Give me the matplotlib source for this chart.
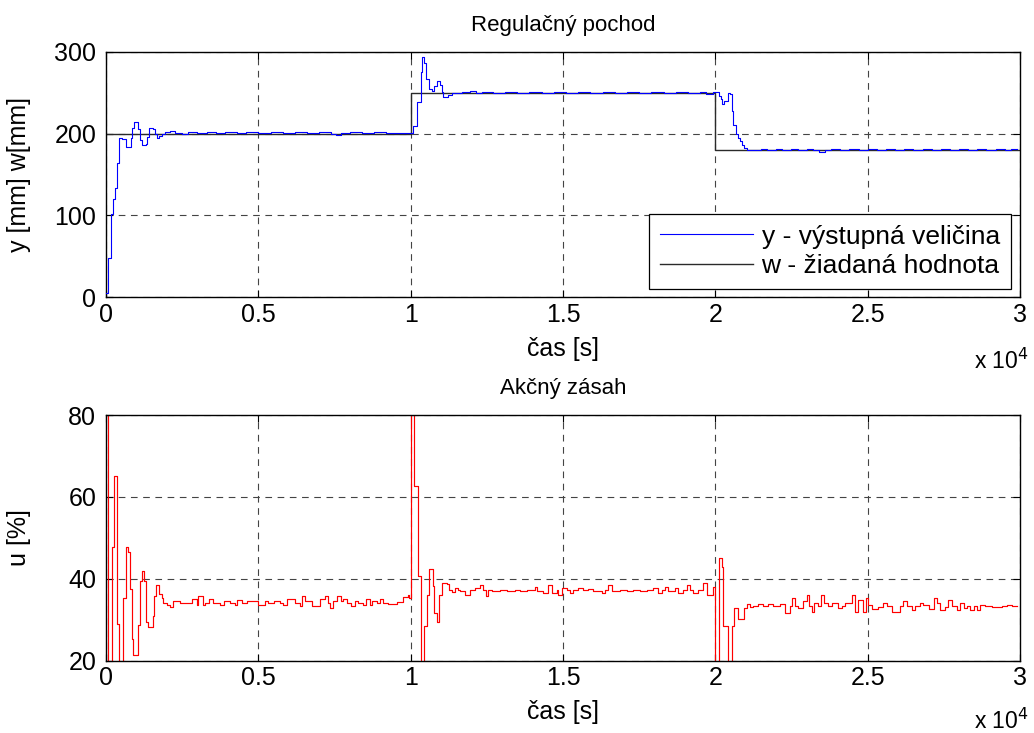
import matplotlib
matplotlib.use("Agg")
import matplotlib.pyplot as plt

plt.rcParams['font.family'] = ['Liberation Sans', 'DejaVu Sans']

# ---- measured output y [mm] (sample-and-hold change points) ----
y_time = [0, 60, 160, 240, 300, 350, 430, 520, 650, 810, 860, 930, 1060, 1120,
          1180, 1300, 1340, 1400, 1550, 1610, 1670, 1750, 1850, 1950, 2100,
          2250, 2500, 2700, 3000, 3300, 3600, 3900, 4300, 4600, 5000, 5400,
          5800, 6200, 6600, 7000, 7400, 7550, 7700, 8000, 8400, 8800, 9200,
          9600, 9950,
          10088, 10200, 10331, 10384, 10450, 10506, 10594, 10703, 10778, 10857,
          10965, 11021, 11074, 11238, 11349, 11700, 11950, 12150, 12350, 12700,
          13100, 13500, 13900, 14300, 14700, 15100, 15500, 15900, 16300, 16700,
          17100, 17500, 17900, 18300, 18700, 19100, 19500, 19700, 19930,
          20125, 20190, 20233, 20299, 20410, 20486, 20541, 20594, 20673, 20739,
          20814, 20890, 20955, 21034, 21500, 21700, 22000, 22200, 22500, 22700,
          23000, 23200, 23400, 23600, 23800, 24100, 24400, 24700, 25000, 25300,
          25600, 25900, 26200, 26500, 26800, 27100, 27400, 27700, 28000, 28300,
          28600, 28900, 29200, 29500, 29700, 29900]
y_value = [5, 48, 102, 120, 134, 164, 194, 193, 183, 194, 207, 214, 205, 192,
           186, 187, 196, 207, 206, 200, 194, 197, 200, 202, 203,
           201, 200, 201.5, 200.5, 201.5, 200.5, 201.5, 200.5, 201.5, 200.5, 201.5,
           200.5, 201.5, 200.5, 201.5, 200, 198.5, 200.5, 201.5, 200.5, 201.5, 200.5,
           201, 200.5,
           209, 239, 274.6, 293, 286, 267, 254, 252, 258, 263.6,
           259, 251, 245, 247, 249, 250.5, 251.5, 249, 250.5, 250,
           251, 250, 251, 250, 251, 250, 251, 250, 251, 250,
           251, 250, 251, 250, 251, 250, 251, 248, 250.5,
           246, 242, 236, 240, 250, 248, 228, 211, 199, 195,
           191, 186, 182, 179.5, 181, 180, 181.5, 180, 181, 180,
           181.5, 180, 177.5, 180, 181, 180, 181.5, 180, 181, 180,
           181.5, 180, 181, 180, 181.5, 180, 181, 180, 181.5, 180,
           181, 180, 181.5, 180, 181, 181]

# ---- setpoint w [mm] ----
w_time = [0, 10000, 20000, 30000]
w_value = [200, 250, 180, 180]

# ---- control action u [%] ----
u_time = [0, 60, 207, 272, 350, 427, 569, 646, 733, 788, 843, 897, 1061, 1116,
          1193, 1258, 1313, 1389, 1532, 1587, 1642, 1751, 1828, 1882, 1992,
          2101, 2210, 2429, 2812, 2977, 3009, 3174, 3250, 3392, 3524, 3743,
          3874, 4071, 4235, 4312, 4454, 4618, 4782, 5001, 5220, 5329, 5515,
          5712, 5822, 5931, 6205, 6369, 6424, 6533, 6752, 7026, 7190, 7299,
          7354, 7441, 7573, 7704, 7791, 7901, 8043, 8174, 8284, 8448, 8536,
          8667, 8722, 8886, 8995, 9105, 9269, 9543, 9761, 9900, 9960,
          10000, 10112, 10253, 10332, 10450, 10529, 10604, 10726, 10778, 10877,
          10942, 11021, 11185, 11250, 11349, 11458, 11567, 11622, 11786, 11950,
          12115, 12279, 12388, 12476, 12552, 12662, 12935, 13154, 13428, 13592,
          13811, 14084, 14161, 14358, 14522, 14631, 14796, 14850, 14960, 15124,
          15233, 15343, 15507, 15671, 15835, 16000, 16273, 16382, 16492, 16601,
          16875, 17094, 17312, 17531, 17750, 17969, 18133, 18243, 18352, 18461,
          18680, 18790, 18954, 19063, 19173, 19282, 19446, 19589, 19742, 19939,
          20000, 20136, 20212, 20267, 20431, 20563, 20628, 20760, 20957, 21033,
          21142, 21252, 21416, 21580, 21744, 21908, 22127, 22291, 22455, 22532,
          22619, 22729, 22893, 23002, 23079, 23166, 23243, 23385, 23473, 23582,
          23714, 23845, 24042, 24151, 24261, 24480, 24589, 24698, 24863, 24939,
          25027, 25136, 25355, 25519, 25629, 25793, 26066, 26176, 26285, 26449,
          26559, 26723, 26832, 26997, 27161, 27270, 27380, 27544, 27653, 27763,
          27927, 28036, 28146, 28255, 28365, 28474, 28583, 28693, 28857, 29076,
          29404, 29568, 29732, 29900]
u_value = [150, 5, 47.7, 65, 29, 5, 35.4, 47.7, 46.5, 37.6, 25.4, 21.5, 28.6, 39.4,
           41.9, 39.4, 29.4, 28.2, 30.9, 35.8, 38.4, 36.2, 35.2, 34.1, 33.5,
           33.2, 34.5, 34.1, 35.1, 33.7, 35.7, 33.5, 34.1, 35.1, 34.1, 33.5,
           34.5, 34.1, 33.5, 34.9, 34.1, 34.5, 34.7, 33.7, 34.5, 34.1, 34.7,
           34.1, 33.5, 35.1, 34.1, 33.3, 35.7, 34.5, 33.3, 35.1, 35.7, 34.1,
           32.9, 34.5, 35.9, 34.5, 35.1, 34.1, 33.3, 34.5, 34.1, 33.5, 35.1,
           33.7, 34.5, 34.1, 35.1, 34.1, 33.9, 34.3, 35.5, 36.0, 35.2,
           110, 62.6, 40.8, 5, 28.4, 36.1, 42.4, 38.3, 31.6, 29.4,
           36.1, 39.0, 38.7, 37.3, 36.7, 37.7, 37.3, 36.9, 36.1, 37.3,
           37.7, 38.4, 37.3, 35.7, 37.3, 36.9, 37.3, 36.9, 37.3, 36.9,
           37.3, 38.1, 36.9, 36.5, 38.6, 36.5, 37.3, 36.1, 37.7, 37.3,
           36.5, 37.3, 37.7, 37.2, 37.5, 36.9, 36.5, 37.3, 38.4, 36.9,
           37.3, 36.9, 37.3, 36.9, 37.3, 37.7, 36.5, 37.3, 38.0, 36.9,
           37.7, 36.5, 37.3, 38.4, 37.3, 36.5, 37.3, 38.9, 36.0, 38.0,
           5, 45.0, 43.0, 28.4, 5, 28.4, 32.9, 30.2, 32.9, 33.8,
           33.0, 33.4, 33.9, 33.4, 33.8, 33.3, 33.8, 31.6, 33.4, 35.3,
           33.3, 32.9, 34.7, 36.0, 33.4, 32.0, 34.1, 33.3, 36.1, 34.1,
           33.4, 34.1, 32.9, 33.4, 34.1, 36.0, 32.0, 34.9, 32.0, 35.3,
           33.7, 32.6, 33.1, 34.1, 33.3, 31.8, 33.3, 34.5, 33.3, 32.5,
           33.3, 34.1, 33.7, 32.6, 35.3, 34.1, 32.5, 33.1, 34.9, 33.3,
           32.5, 34.1, 32.9, 33.4, 32.5, 33.4, 32.3, 33.7, 33.3, 33.1,
           33.3, 33.7, 33.4, 33.4]

x_ticks = [0, 5000, 10000, 15000, 20000, 25000, 30000]
x_tick_labels = ['0', '0.5', '1', '1.5', '2', '2.5', '3']
y_ticks_top = [0, 100, 200, 300]
y_ticks_bottom = [20, 40, 60, 80]

FS = 18
FS_TITLE = 16
FS_LEGEND = 19
FS_SCALE = 16.5
fig = plt.figure(figsize=(10.34, 7.33), dpi=100)
ax1 = fig.add_axes([106 / 1034, 1 - 297.3 / 733, 914 / 1034, 245.6 / 733])
ax2 = fig.add_axes([106 / 1034, 1 - 660.7 / 733, 914 / 1034, 245.7 / 733])


def style(ax, yticks, ylabel, title, scale_y):
    ax.set_xlim(0, 30000)
    ax.set_ylim(yticks[0], yticks[-1])
    ax.set_xticks(x_ticks)
    ax.set_xticklabels(x_tick_labels)
    ax.set_yticks(yticks)
    ax.tick_params(direction='in', top=True, right=True, length=5, width=0.8,
                   labelsize=FS)
    ax.tick_params(axis='x', pad=4)
    ax.tick_params(axis='y', pad=7)
    ax.grid(True, color='#444444', linestyle=(0, (6, 5)), linewidth=0.8)
    for s in ax.spines.values():
        s.set_linewidth(1.0)
    ax.set_xlabel('čas [s]', fontsize=FS, labelpad=7)
    ax.set_ylabel(ylabel, fontsize=FS)
    ax.yaxis.set_label_coords(-0.082, 0.5)
    ax.set_title(title, fontsize=FS_TITLE, pad=15)
    ax.text(1.009, scale_y, r'x 10$^{4}$', transform=ax.transAxes,
            ha='right', va='baseline', fontsize=FS_SCALE)


style(ax1, y_ticks_top, 'y [mm] w[mm]', 'Regulačný pochod', -0.29)
ax1.step(y_time, y_value, where='post', color='#0000ff', linewidth=0.8,
         label='y - výstupná veličina', zorder=3)
ax1.step(w_time, w_value, where='post', color='#2a2a2a', linewidth=1.0,
         label='w - žiadaná hodnota', zorder=2)
leg = ax1.legend(loc='lower right', bbox_to_anchor=(0.990, 0.034),
                 borderaxespad=0, fancybox=False, framealpha=1,
                 edgecolor='black', fontsize=FS_LEGEND, handlelength=3.5,
                 handletextpad=0.33, labelspacing=0.2, borderpad=0.42)
leg.get_frame().set_linewidth(0.9)

style(ax2, y_ticks_bottom, 'u [%]', 'Akčný zásah', -0.278)
ax2.step(u_time, u_value, where='post', color='#ff0000', linewidth=0.85)

fig.savefig('out.png', dpi=100)
